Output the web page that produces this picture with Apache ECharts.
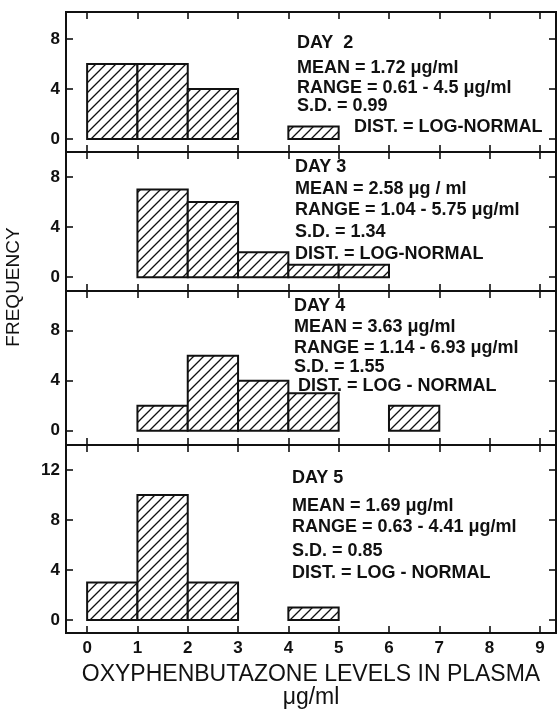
<!DOCTYPE html>
<html>
<head>
<meta charset="utf-8">
<script src="https://cdn.jsdelivr.net/npm/echarts@6/dist/echarts.min.js"></script>
<style>
  html, body { margin: 0; padding: 0; background: #fff; }
  #chart { width: 558px; height: 722px; }
</style>
</head>
<body>
<div id="chart"></div>
<script>
// bin starts, each bin is 1 µg/ml wide
const binStarts = [0, 1, 2, 3, 4, 5, 6, 7, 8];
const day2 = [6, 6, 4, 0, 1, 0, 0, 0, 0];
const day3 = [0, 7, 6, 2, 1, 1, 0, 0, 0];
const day4 = [0, 2, 6, 4, 3, 0, 2, 0, 0];
const day5 = [3, 10, 3, 0, 1, 0, 0, 0, 0];
const xTicks = [0, 1, 2, 3, 4, 5, 6, 7, 8, 9];
const yTicksSmall = [0, 4, 8];
const yTicksDay5 = [0, 4, 8, 12];

const notes = [
  ['DAY  2', 'MEAN = 1.72 μg/ml', 'RANGE = 0.61 - 4.5 μg/ml', 'S.D. = 0.99', 'DIST. = LOG-NORMAL'],
  ['DAY 3', 'MEAN = 2.58 μg / ml', 'RANGE = 1.04 - 5.75 μg/ml', 'S.D. = 1.34', 'DIST. = LOG-NORMAL'],
  ['DAY 4', 'MEAN = 3.63 μg/ml', 'RANGE = 1.14 - 6.93 μg/ml', 'S.D. = 1.55', 'DIST. = LOG - NORMAL'],
  ['DAY 5', 'MEAN = 1.69 μg/ml', 'RANGE = 0.63 - 4.41 μg/ml', 'S.D. = 0.85', 'DIST. = LOG - NORMAL']
];

// hatch pattern for the bars
function makeHatch() {
  let c = document.createElement('canvas')
  c.width = 10
  c.height = 10
  let ctx = c.getContext('2d')
  ctx.fillStyle = '#fff'
  ctx.fillRect(0, 0, 10, 10)
  ctx.strokeStyle = '#111'
  ctx.lineWidth = 1.3
  ctx.beginPath()
  ctx.moveTo(-1, 11); ctx.lineTo(11, -1)
  ctx.moveTo(-6, 6); ctx.lineTo(6, -6)
  ctx.moveTo(4, 16); ctx.lineTo(16, 4)
  ctx.stroke()
  return c
}
const hatch = {image: makeHatch(), repeat: 'repeat'}

function toBins(counts) {
  let out = []
  counts.forEach((v, i) => {
    if (v > 0) out.push([binStarts[i], binStarts[i] + 1, v])
  })
  return out
}

function renderItem(params, api) {
  let p0 = api.coord([api.value(0), api.value(2)])
  let p1 = api.coord([api.value(1), 0])
  return {
    type: 'rect',
    shape: {x: p0[0], y: p0[1], width: p1[0] - p0[0], height: p1[1] - p0[1]},
    style: {fill: hatch, stroke: '#111', lineWidth: 2}
  }
}

const panels = [
  {top: 12, height: 140, min: -1.05, max: 10.15, ticks: yTicksSmall, data: day2},
  {top: 152, height: 139, min: -1.1, max: 10.0, ticks: yTicksSmall, data: day3},
  {top: 291, height: 154, min: -1.15, max: 11.17, ticks: yTicksSmall, data: day4},
  {top: 445, height: 188, min: -1.05, max: 14.0, ticks: yTicksDay5, data: day5}
];

const noteY = [
  [43, 68, 88, 106, 127],
  [167, 189, 210, 232, 254],
  [306, 327, 348, 367, 386],
  [478, 506, 527, 551, 573]
];
const noteX = [[297, 297, 297, 297, 354], [295, 295, 295, 295, 295], [294, 294, 294, 294, 298], [292, 292, 292, 292, 292]];

const font = '"Liberation Sans", Arial, sans-serif'
const tickStyle = {show: true, inside: true, length: 7, lineStyle: {color: '#111', width: 1.6}}

let grids = [], xAxes = [], yAxes = [], series = [], graphics = []

panels.forEach((p, i) => {
  grids.push({left: 66, right: 2, top: p.top, height: p.height, show: true,
    borderColor: '#111', borderWidth: 2, backgroundColor: 'transparent'})
  let last = i === panels.length - 1
  ;['bottom', 'top'].forEach(pos => {
    xAxes.push({
      type: 'value', gridIndex: i, position: pos, min: -0.42, max: 9.32,
      axisLine: {show: false, onZero: false}, splitLine: {show: false},
      axisTick: Object.assign({customValues: xTicks}, tickStyle),
      axisLabel: {show: last && pos === 'bottom', customValues: xTicks, margin: 7,
        fontSize: 17, fontWeight: 'bold', fontFamily: font, color: '#111'},
      name: last && pos === 'bottom' ? 'OXYPHENBUTAZONE LEVELS IN PLASMA\nμg/ml' : '',
      nameLocation: 'middle', nameGap: 30,
      nameTextStyle: {fontSize: 23, fontFamily: font, color: '#111', lineHeight: 23}
    })
  })
  ;['left', 'right'].forEach(pos => {
    yAxes.push({
      type: 'value', gridIndex: i, position: pos, min: p.min, max: p.max,
      axisLine: {show: false, onZero: false}, splitLine: {show: false},
      axisTick: Object.assign({customValues: p.ticks}, tickStyle),
      axisLabel: {show: pos === 'left', customValues: p.ticks, margin: 6,
        fontSize: 17, fontWeight: 'bold', fontFamily: font, color: '#111'}
    })
  })
  series.push({
    type: 'custom', xAxisIndex: i * 2, yAxisIndex: i * 2,
    renderItem: renderItem, data: toBins(p.data), silent: true
  })
  notes[i].forEach((t, k) => {
    graphics.push({
      type: 'text', x: noteX[i][k], y: noteY[i][k],
      style: {text: t, font: 'bold 18px ' + font, fill: '#111', verticalAlign: 'middle'}
    })
  })
})

graphics.push({
  type: 'text', x: 14, y: 287, rotation: Math.PI / 2,
  style: {text: 'FREQUENCY', font: '19px ' + font, fill: '#111', align: 'center', verticalAlign: 'middle'}
})

let chart = echarts.init(document.getElementById('chart'))
chart.setOption({
  backgroundColor: '#fff',
  animation: false,
  grid: grids,
  xAxis: xAxes,
  yAxis: yAxes,
  series: series,
  graphic: graphics
})
</script>
</body>
</html>
